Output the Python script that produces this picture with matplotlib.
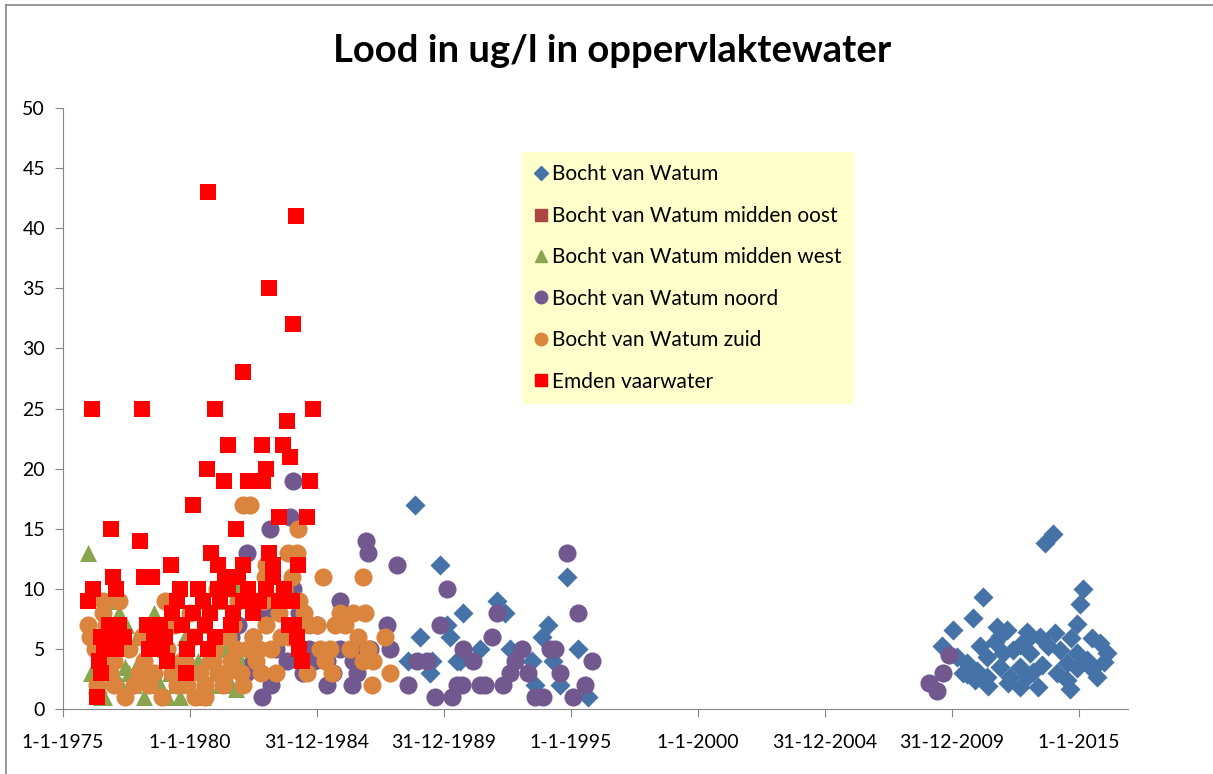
import matplotlib
matplotlib.use("Agg")
import matplotlib.pyplot as plt
from matplotlib.lines import Line2D

plt.rcParams['font.family'] = ['Lato', 'DejaVu Sans']

# decimal years, lead concentration in ug/l
watum_jaar = [1988.86, 1989.84, 1990.75, 1989.06, 1990.24, 1990.51, 1988.58, 1989.45, 1990.12,
              1994.84, 1992.09, 1992.40, 1994.09, 1993.86, 1995.28, 1991.42, 1992.60, 1993.46,
              1994.29, 1990.63, 1993.58, 1994.57, 1995.67, 1989.53,
              2013.98, 2013.66, 2011.22, 2015.16, 2015.04, 2014.92, 2010.83, 2010.04, 2009.61,
              2011.77, 2012.17, 2012.95, 2014.06, 2013.46, 2011.69, 2012.68, 2011.10, 2015.51,
              2015.83, 2016.10, 2010.20, 2010.59, 2011.38, 2012.00, 2013.07, 2014.25, 2014.92,
              2015.31, 2011.89, 2012.68, 2013.54, 2014.53, 2014.92, 2010.43, 2010.91, 2011.38,
              2012.28, 2012.95, 2014.13, 2014.53, 2015.71, 2012.68, 2013.39, 2014.65, 2011.40,
              2010.60, 2013.00, 2011.90, 2013.80, 2012.40, 2011.00, 2014.70, 2015.50, 2016.00,
              2012.20, 2013.20]
watum_lood = [17, 12, 8, 6, 6, 4, 4, 3, 7,
              11, 9, 8, 7, 6, 5, 5, 5, 4,
              4, 4, 2, 2, 1, 4,
              14.6, 13.8, 9.3, 10.0, 8.7, 7.1, 7.6, 6.6, 5.2,
              6.8, 6.6, 6.4, 6.3, 6.0, 5.6, 5.3, 5.2, 5.9,
              5.5, 4.7, 4.3, 3.8, 4.3, 4.7, 4.7, 4.9, 4.7,
              4.1, 3.5, 3.5, 3.7, 3.8, 3.4, 3.0, 2.4, 2.7,
              2.7, 2.7, 3.0, 2.4, 2.7, 1.8, 1.8, 1.7, 1.9,
              2.9, 5.8, 6.1, 5.2, 4.9, 3.2, 5.9, 3.3, 3.9,
              2.2, 3.1]

midden_oost_jaar = []
midden_oost_lood = []

midden_west_jaar = [1975.98, 1976.10, 1976.30, 1976.50, 1976.60, 1976.85, 1977.00, 1977.20, 1977.30,
                    1977.50, 1977.60, 1977.80, 1978.00, 1978.20, 1978.60, 1978.50, 1978.80, 1979.00,
                    1979.20, 1979.40, 1979.60, 1979.80, 1980.00, 1980.30, 1980.50, 1980.60, 1981.06,
                    1981.00, 1981.20, 1981.40, 1981.60, 1981.80, 1982.00, 1981.85, 1977.90, 1976.40,
                    1977.45, 1980.70, 1979.10]
midden_west_lood = [13, 3, 2, 1, 1, 9, 3, 8, 2,
                    7, 3, 2, 4, 1, 8, 3, 2, 5,
                    3, 2, 1, 6, 2, 4, 1, 7, 9,
                    3, 2, 5, 2, 1.7, 4, 10, 6, 2,
                    3.5, 2, 1]

noord_jaar = [1984.06, 1983.94, 1983.15, 1982.24, 1984.06, 1982.83, 1984.45, 1985.39, 1982.48,
              1981.90, 1982.50, 1982.90, 1983.50, 1984.30, 1984.70, 1983.80, 1983.40, 1981.60,
              1982.20, 1983.20, 1985.00, 1984.90,
              1986.93, 1987.01, 1988.15, 1985.91, 1987.76, 1990.12, 1989.84, 1986.57, 1985.91,
              1987.09, 1985.39, 1985.63, 1986.57, 1986.38, 1988.58, 1988.94, 1989.33, 1989.65,
              1990.31, 1990.51, 1990.75, 1994.84, 1995.28, 1992.09, 1991.89, 1991.14, 1993.07,
              1992.80, 1992.60, 1993.31, 1994.17, 1994.37, 1994.57, 1995.83, 1995.55, 1995.08,
              1993.58, 1993.90, 1990.71, 1991.42, 1991.61, 1992.32, 1987.87, 1986.42,
              2009.88, 2009.65, 2009.09, 2009.41]
noord_lood = [19, 16, 15, 13, 10, 1, 3, 2, 4,
              7, 6, 8, 9, 8, 5, 4, 5, 6,
              3, 2, 7, 4,
              14, 13, 12, 9, 7, 10, 7, 5, 5,
              5, 4, 3, 3, 2, 2, 4, 4, 1,
              1, 2, 5, 13, 8, 8, 6, 4, 5,
              4, 3, 3, 5, 5, 3, 4, 2, 1,
              1, 1, 2, 2, 2, 2, 5, 4,
              4.5, 3.0, 2.2, 1.5]

zuid_jaar = [1975.98, 1976.06, 1976.26, 1976.57, 1976.57, 1976.34, 1976.85, 1977.00, 1977.44,
             1977.30, 1977.60, 1977.80, 1978.00, 1978.20, 1978.40, 1978.60, 1978.90, 1979.00,
             1979.10, 1979.30, 1979.50, 1979.70, 1979.90, 1980.10, 1980.20, 1980.40, 1980.60,
             1980.80, 1981.00, 1981.10, 1981.30, 1981.50, 1981.60, 1981.80, 1982.00, 1982.10,
             1982.09, 1982.36, 1982.30, 1982.50, 1982.60, 1982.80, 1983.00, 1983.20, 1982.95,
             1983.50, 1983.40, 1983.60, 1983.86, 1984.20, 1984.25, 1984.30, 1984.50, 1984.70,
             1985.00, 1985.24, 1985.10, 1985.30, 1985.50, 1985.90, 1986.10, 1986.40, 1986.60,
             1986.81, 1986.90, 1987.00, 1987.20, 1987.68, 1987.87, 1987.17, 1986.80, 1985.70,
             1986.30, 1980.00, 1979.40, 1978.10, 1977.20, 1981.90, 1982.90, 1983.70, 1981.06,
             1983.00, 1984.00, 1985.60, 1980.59, 1977.00, 1978.80, 1980.90, 1981.70, 1982.70,
             1983.90, 1984.60, 1976.70, 1979.80, 1981.40]
zuid_lood = [7, 6, 5, 9, 8, 2, 3, 4, 1,
             6, 5, 2, 3, 4, 2, 3, 1, 9,
             5, 3, 2, 4, 2, 6, 1, 3, 2,
             4, 5, 3, 2, 6, 4, 5, 3, 2,
             17, 17, 5, 6, 4, 3, 7, 5, 11,
             8, 3, 6, 13, 13, 15, 9, 8, 7,
             7, 11, 5, 4, 5, 8, 7, 8, 6,
             11, 8, 5, 4, 6, 3, 2, 4, 7,
             5, 8, 7, 6, 9, 9, 9, 10, 10,
             12, 11, 3, 1, 2, 6, 4, 7, 5,
             6, 3, 7, 4, 3]

emden_jaar = [1976.14, 1978.11, 1980.98, 1984.84, 1980.71, 1984.17, 1983.11, 1984.06, 1982.09,
              1983.82, 1981.50, 1982.83, 1983.66, 1983.94, 1980.67, 1982.99, 1981.34, 1982.28,
              1982.87, 1984.72, 1980.12, 1983.50, 1984.60, 1976.90, 1981.81, 1978.03, 1980.83,
              1983.11, 1979.25, 1981.10, 1982.09, 1983.27, 1984.25,
              1976.00, 1976.20, 1976.97, 1977.10, 1978.19, 1978.50, 1979.60, 1976.50, 1976.60,
              1976.40, 1976.50, 1976.34, 1977.00, 1977.20, 1977.10, 1977.40, 1976.80, 1978.30,
              1978.60, 1978.40, 1978.80, 1978.90, 1979.10, 1979.00, 1979.30, 1979.50, 1979.70,
              1979.90, 1979.84, 1980.20, 1980.30, 1980.50, 1980.60, 1980.70, 1980.80, 1981.00,
              1981.20, 1981.38, 1981.50, 1981.70, 1981.90, 1981.60, 1982.10, 1982.30, 1982.50,
              1982.70, 1983.00, 1983.27, 1983.50, 1983.70, 1983.90, 1984.10, 1984.20, 1984.30,
              1984.40, 1984.00, 1980.10, 1981.10]
emden_lood = [25, 25, 25, 25, 43, 41, 35, 32, 28,
              24, 22, 22, 22, 21, 20, 20, 19, 19,
              19, 19, 17, 16, 16, 15, 15, 14, 13,
              13, 12, 12, 12, 12, 12,
              9, 10, 11, 10, 11, 11, 10, 6, 5,
              4, 3, 1, 6, 7, 5, 6, 7, 7,
              6, 5, 7, 5, 4, 6, 8, 9, 7,
              5, 3, 6, 10, 9, 7, 5, 8, 6,
              9, 11, 10, 8, 11, 7, 9, 10, 8,
              9, 10, 11, 9, 10, 7, 7, 6, 5,
              4, 9, 8, 10]

series = [
    ("Bocht van Watum", watum_jaar, watum_lood, "D", "#4572A7", 105),
    ("Bocht van Watum midden oost", midden_oost_jaar, midden_oost_lood, "s", "#AA4643", 130),
    ("Bocht van Watum midden west", midden_west_jaar, midden_west_lood, "^", "#89A54E", 150),
    ("Bocht van Watum noord", noord_jaar, noord_lood, "o", "#71588F", 170),
    ("Bocht van Watum zuid", zuid_jaar, zuid_lood, "o", "#DB843D", 170),
    ("Emden vaarwater", emden_jaar, emden_lood, "s", "#FF0000", 135),
]

tick_jaren = [1975, 1980, 1985, 1990, 1995, 2000, 2005, 2010, 2015]
tick_labels = ["1-1-1975", "1-1-1980", "31-12-1984", "31-12-1989", "1-1-1995",
               "1-1-2000", "31-12-2004", "31-12-2009", "1-1-2015"]

fig = plt.figure(figsize=(12.13, 7.74), dpi=100)
ax = fig.add_axes([63 / 1213, 1 - 709 / 774, 1065 / 1213, 601 / 774])

handles = []
for i, (naam, x, y, m, kleur, s) in enumerate(series):
    ax.scatter(x, y, marker=m, s=s, color=kleur, linewidths=0, zorder=3 + i)
    handles.append(Line2D([], [], linestyle='none', marker=m, color=kleur,
                          markersize=9 if m != "D" else 7, label=naam))

ax.set_xlim(1975, 2016.93)
ax.set_ylim(0, 50)
ax.set_xticks(tick_jaren)
ax.set_xticklabels(tick_labels)
ax.set_yticks(range(0, 51, 5))

for side in ['top', 'right']:
    ax.spines[side].set_visible(False)
for side in ['left', 'bottom']:
    ax.spines[side].set_color('#868686')
ax.tick_params(direction='out', length=6, color='#868686', labelsize=14)
ax.tick_params(axis='x', pad=12)
ax.tick_params(axis='y', pad=7)

leg = ax.legend(handles=handles, loc='upper left', bbox_to_anchor=(0.431, 0.927),
                fontsize=15, frameon=True, fancybox=False, facecolor='#FFFFCC',
                edgecolor='none', framealpha=1, handlelength=0.6, handletextpad=0.25,
                labelspacing=1.03, borderpad=0.6, borderaxespad=0)
leg.set_zorder(20)

fig.text(0.5045, 1 - 51 / 774, "Lood in ug/l in oppervlaktewater",
         ha='center', va='center', fontsize=27.5, fontweight='bold')

# chart frame (only top and left edges are visible in the crop)
fig.add_artist(Line2D([6 / 1213, 6 / 1213], [0, 1 - 5 / 774], color='#868686', lw=1.2))
fig.add_artist(Line2D([6 / 1213, 1], [1 - 5 / 774, 1 - 5 / 774], color='#868686', lw=1.2))

fig.savefig("out.png", dpi=100)
